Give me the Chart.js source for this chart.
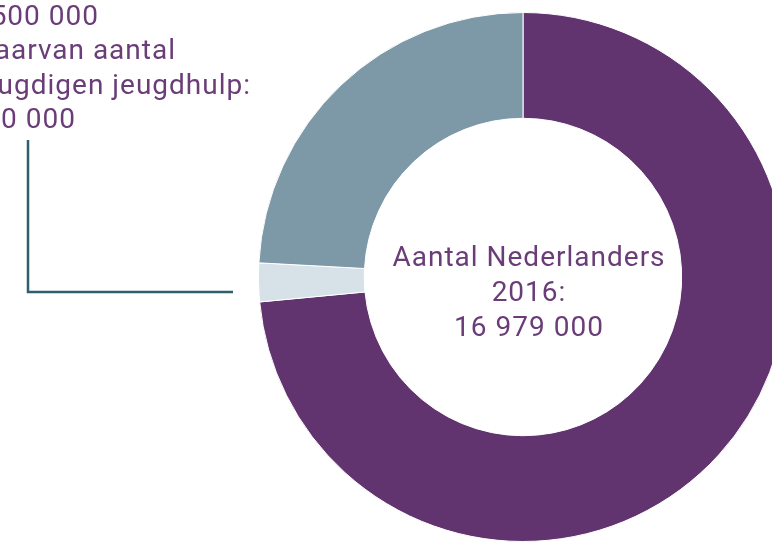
<!DOCTYPE html>
<html>
<head>
<meta charset="utf-8">
<script src="https://cdn.jsdelivr.net/npm/chart.js@4/dist/chart.umd.min.js"></script>
<style>
html,body{margin:0;padding:0;background:#fff;overflow:hidden;width:772px;height:542px;}
#wrap{position:absolute;left:0;top:0;width:800px;height:560px;}
</style>
</head>
<body>
<div id="wrap"><canvas id="c"></canvas></div>
<script>
const categories = ["Overige Nederlanders", "Jeugdigen met jeugdhulp", "Overige jeugdigen"];
const values = [12479000, 400000, 4100000];
const colors = ["#61346f", "#d6e1e8", "#7d99a7"];
const centerLines = ["Aantal Nederlanders", "2016:", "16 979 000"];
const sideLines = ["4 500 000", "waarvan aantal", "jeugdigen jeugdhulp:", "400 000"];

const textPlugin = {
  id: 'texts',
  afterDraw(chart) {
    const ctx = chart.ctx;
    const meta = chart.getDatasetMeta(0).data[0];
    const cx = meta.x, cy = meta.y;
    ctx.save();
    ctx.fillStyle = '#6a3d78';
    ctx.font = '28px Roboto';
    ctx.letterSpacing = '1px';
    ctx.textAlign = 'center';
    ctx.textBaseline = 'alphabetic';
    const offs = [-11, 24, 59];
    centerLines.forEach((t, i) => ctx.fillText(t, cx + 6, cy + offs[i]));
    ctx.textAlign = 'right';
    const sy = [25, 59, 94, 128];
    const ex = [99, 176, 251, 76];
    sideLines.forEach((t, i) => ctx.fillText(t, ex[i], sy[i]));
    ctx.strokeStyle = '#2f5f6d';
    ctx.lineWidth = 2.5;
    ctx.beginPath();
    ctx.moveTo(28, 140);
    ctx.lineTo(28, 292);
    ctx.lineTo(233, 292);
    ctx.stroke();
    ctx.restore();
  }
};

new Chart(document.getElementById('c'), {
  type: 'doughnut',
  data: {
    labels: categories,
    datasets: [{
      data: values,
      backgroundColor: colors,
      borderColor: '#ffffff',
      borderWidth: 1
    }]
  },
  options: {
    responsive: true,
    maintainAspectRatio: false,
    animation: false,
    cutout: '60%',
    layout: { padding: { left: 258, right: 12, top: 12, bottom: 18 } },
    plugins: { legend: { display: false }, tooltip: { enabled: false } }
  },
  plugins: [textPlugin]
});
</script>
</body>
</html>
